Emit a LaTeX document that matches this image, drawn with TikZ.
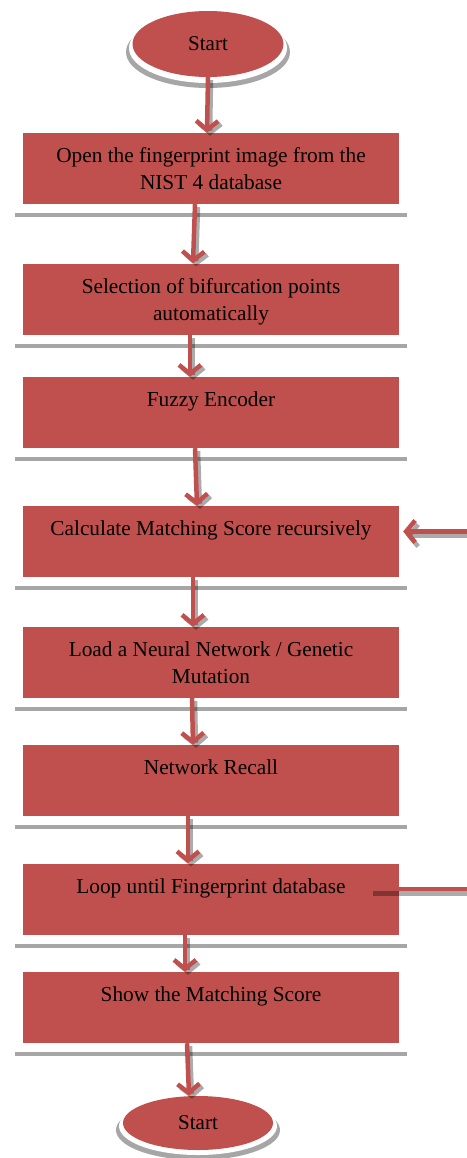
\documentclass[tikz,border=0pt]{standalone}
\usepackage{fontspec}
\setmainfont{Liberation Serif}
\usetikzlibrary{shapes.geometric,arrows.meta,positioning,calc}
\definecolor{boxred}{HTML}{C0504D}
\tikzset{
    stepbox/.style={rectangle, fill=boxred, minimum width=376pt, minimum height=71pt, inner sep=0pt},
    steptext/.style={anchor=north, align=center, inner sep=0pt, font=\fontsize{21.3}{27}\selectfont},
    terminal/.style={ellipse, fill=boxred, inner sep=0pt, font=\fontsize{21}{24}\selectfont},
    flow/.style={draw=boxred, line width=4.5pt, -{Straight Barb[length=9pt,width=22pt]}},
    flowshade/.style={draw=black, opacity=0.33, line width=4.5pt, -{Straight Barb[length=9pt,width=22pt]}},
    bar/.style={draw=black!35, line width=4pt}
}
\begin{document}
\begin{tikzpicture}[x=1pt, y=-1pt]
    \useasboundingbox (0,0) rectangle (466,1158);

    % Start / end shadows
    \fill[black!35] (208,52) ellipse [x radius=82pt, y radius=36pt];
    \fill[white] (208,48) ellipse [x radius=79pt, y radius=35pt];
    \fill[black!35] (198,1130) ellipse [x radius=82pt, y radius=30pt];
    \fill[white] (198,1126) ellipse [x radius=79pt, y radius=29pt];

    \node [terminal, minimum width=151pt, minimum height=66pt] (s) at (208,44) {Start};
    \node [terminal, minimum width=150pt, minimum height=54pt] (e) at (198,1123) {Start};

    % Process boxes
    \foreach \n/\y in {1/168.5, 2/299, 3/412.5, 4/541.5, 5/662.5, 6/780.5, 7/899, 8/1007.5} {
        \node [stepbox] (b\n) at (211,\y) {};
        \draw [bar] ([xshift=-8pt, yshift=-11pt]b\n.south west) -- ([xshift=8pt, yshift=-11pt]b\n.south east);
    }

    \node [steptext] (t1) at ([yshift=-15pt]b1.north) {Open the fingerprint image from the\\NIST 4 database};
    \node [steptext] (t2) at ([yshift=-15pt]b2.north) {Selection of bifurcation points\\automatically};
    \node [steptext] (t3) at ([yshift=-15pt]b3.north) {Fuzzy Encoder};
    \node [steptext] (t4) at ([yshift=-15pt]b4.north) {Calculate Matching Score recursively};
    \node [steptext] (t5) at ([yshift=-15pt]b5.north) {Load a Neural Network / Genetic\\Mutation};
    \node [steptext] (t6) at ([yshift=-15pt]b6.north) {Network Recall};
    \node [steptext] (t7) at ([yshift=-15pt]b7.north) {Loop until Fingerprint database};
    \node [steptext] (t8) at ([yshift=-15pt]b8.north) {Show the Matching Score};

    % Vertical arrows
    \foreach \a/\b/\da/\db in {s/b1/0/-4, b1/b2/-16/-18, b2/b3/-21/-21, b3/b4/-16/-14, b4/b5/-18/-18, b5/b6/-19/-18, b6/b7/-23/-23, b7/b8/-26/-26, b8/e/-24/-9} {
        \draw [flowshade] ([xshift=\da pt+3pt, yshift=-3pt]\a.south) -- ([xshift=\db pt+3pt, yshift=-3pt]\b.north);
        \draw [flow] ([xshift=\da pt]\a.south) -- ([xshift=\db pt]\b.north);
    }

    % Feedback into the matching step
    \coordinate (r4) at (470,531.5);
    \coordinate (in4) at ([xshift=4pt, yshift=10pt]b4.east);
    \draw [flowshade] ([xshift=3pt, yshift=-4pt]r4) -- ([xshift=3pt, yshift=-4pt]in4);
    \draw [flow] (r4) -- (in4);

    % Loop line
    \coordinate (l7) at ([xshift=-26pt, yshift=10pt]b7.east);
    \coordinate (r7) at (470,889);
    \draw [draw=black, opacity=0.33, line width=4.5pt] ([yshift=-4.5pt]l7) -- ([yshift=-4.5pt]r7);
    \draw [draw=boxred, line width=4.5pt] (l7) -- (r7);
\end{tikzpicture}
\end{document}
